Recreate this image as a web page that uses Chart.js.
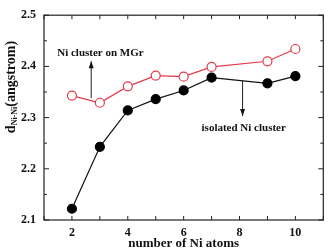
<!DOCTYPE html>
<html>
<head>
<meta charset="utf-8">
<script src="https://cdn.jsdelivr.net/npm/chart.js@4.4.1/dist/chart.umd.min.js"></script>
<style>
html, body { margin: 0; padding: 0; background: #fff; }
#wrap { width: 329px; height: 251px; }
</style>
</head>
<body>
<div id="wrap"><canvas id="c" width="329" height="251"></canvas></div>
<script>
const atoms = [2, 3, 4, 5, 6, 7, 9, 10];
const onMGr = [2.343, 2.329, 2.361, 2.382, 2.380, 2.399, 2.410, 2.434];
const isolated = [2.122, 2.243, 2.314, 2.336, 2.353, 2.378, 2.367, 2.381];
const xTicks = [2, 4, 6, 8, 10];
const yTicks = [2.1, 2.2, 2.3, 2.4, 2.5];

const serif = '"Liberation Serif", "Times New Roman", serif';
const redColor = '#e23a4a';

// annotations: label + arrow, in data units
const notes = [
	{ text: 'Ni cluster on MGr', tx: 3.02, ty: 2.425, ax: 2.69, from: 2.338, to: 2.41 },
	{ text: 'isolated Ni cluster', tx: 8.15, ty: 2.28, ax: 8.11, from: 2.372, to: 2.303 }
];

const frame = {
	id: 'frame',
	afterDraw(chart) {
		const { ctx, chartArea: { top, bottom, left, right }, scales: { x, y } } = chart;
		ctx.save();
		ctx.strokeStyle = '#222';
		ctx.lineWidth = 1.2;
		ctx.strokeRect(left, top, right - left, bottom - top);

		// inward ticks
		ctx.lineWidth = 1;
		for (let v = 1; v <= 11; v++) {
			const px = x.getPixelForValue(v);
			ctx.beginPath();
			ctx.moveTo(px, bottom); ctx.lineTo(px, bottom - 4);
			ctx.moveTo(px, top); ctx.lineTo(px, top + 4);
			ctx.stroke();
		}
		for (let i = 0; i <= 8; i++) {
			const v = 2.1 + i * 0.05;
			const py = y.getPixelForValue(v);
			const len = i % 2 == 0 ? 5 : 3;
			ctx.beginPath();
			ctx.moveTo(left, py); ctx.lineTo(left + len, py);
			ctx.moveTo(right, py); ctx.lineTo(right - len, py);
			ctx.stroke();
		}

		// annotations
		ctx.fillStyle = '#111';
		ctx.font = 'bold 11px ' + serif;
		ctx.textAlign = 'center';
		ctx.textBaseline = 'middle';
		notes.forEach(n => {
			ctx.fillText(n.text, x.getPixelForValue(n.tx), y.getPixelForValue(n.ty));
			const ax = x.getPixelForValue(n.ax);
			const y0 = y.getPixelForValue(n.from), y1 = y.getPixelForValue(n.to);
			const dir = y1 < y0 ? 1 : -1;
			ctx.beginPath();
			ctx.moveTo(ax, y0); ctx.lineTo(ax, y1);
			ctx.stroke();
			ctx.beginPath();
			ctx.moveTo(ax, y1);
			ctx.lineTo(ax - 2.5, y1 + dir * 7);
			ctx.lineTo(ax + 2.5, y1 + dir * 7);
			ctx.closePath();
			ctx.fill();
		});

		// y title with subscript
		ctx.translate(11, 87);
		ctx.rotate(-Math.PI / 2);
		ctx.textAlign = 'left';
		ctx.textBaseline = 'middle';
		const main = 'd', sub = 'Ni-Ni', rest = '(angstrom)';
		ctx.font = 'bold 14px ' + serif;
		const w1 = ctx.measureText(main).width;
		ctx.font = 'bold 8px ' + serif;
		const w2 = ctx.measureText(sub).width;
		ctx.font = 'bold 14px ' + serif;
		const w3 = ctx.measureText(rest).width;
		let sx = -(w1 + w2 + w3) / 2;
		ctx.fillText(main, sx, 0);
		ctx.font = 'bold 8px ' + serif;
		ctx.fillText(sub, sx + w1, 4);
		ctx.font = 'bold 14px ' + serif;
		ctx.fillText(rest, sx + w1 + w2, 0);
		ctx.restore();
	}
};

new Chart(document.getElementById('c'), {
	type: 'line',
	data: {
		labels: atoms,
		datasets: [{
			label: 'Ni cluster on MGr',
			data: atoms.map((a, i) => ({ x: a, y: onMGr[i] })),
			borderColor: redColor,
			backgroundColor: '#fff',
			pointBorderColor: redColor,
			pointBackgroundColor: '#fff',
			borderWidth: 1.2,
			pointRadius: 4.5,
			pointBorderWidth: 1.2,
			tension: 0
		}, {
			label: 'isolated Ni cluster',
			data: atoms.map((a, i) => ({ x: a, y: isolated[i] })),
			borderColor: '#111',
			backgroundColor: '#000',
			pointBackgroundColor: '#000',
			pointBorderColor: '#000',
			borderWidth: 1.2,
			pointRadius: 4.5,
			tension: 0
		}]
	},
	options: {
		responsive: false,
		animation: false,
		devicePixelRatio: 1,
		layout: { padding: { top: 7, right: 3, left: 0, bottom: 0 } },
		plugins: {
			legend: { display: false },
			tooltip: { enabled: false }
		},
		scales: {
			x: {
				type: 'linear',
				min: 1,
				max: 11,
				afterFit: s => { s.height = 31; },
				afterBuildTicks: s => { s.ticks = xTicks.map(v => ({ value: v })); },
				grid: { display: false, drawTicks: false },
				border: { display: false },
				ticks: {
					color: '#111',
					padding: 6,
					font: { family: serif, weight: 'bold', size: 12 }
				},
				title: {
					display: true,
					text: 'number of Ni atoms',
					color: '#111',
					padding: 0,
					font: { family: serif, weight: 'bold', size: 13 }
				}
			},
			y: {
				min: 2.1,
				max: 2.5,
				afterFit: s => { s.width = 44; },
				afterBuildTicks: s => { s.ticks = yTicks.map(v => ({ value: v })); },
				grid: { display: false, drawTicks: false },
				border: { display: false },
				ticks: {
					color: '#111',
					padding: 8,
					font: { family: serif, weight: 'bold', size: 12 },
					callback: v => v.toFixed(1)
				}
			}
		}
	},
	plugins: [frame]
});
</script>
</body>
</html>
